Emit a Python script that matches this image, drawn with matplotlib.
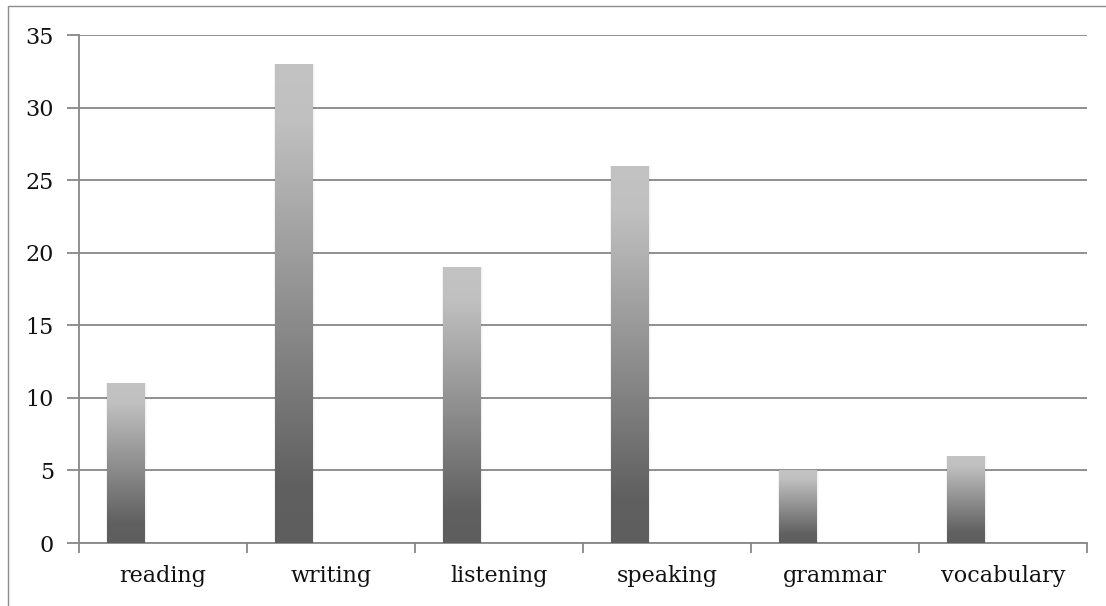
import numpy as np
import matplotlib
matplotlib.use("Agg")
import matplotlib.pyplot as plt
from matplotlib.patches import Rectangle
from matplotlib.colors import LinearSegmentedColormap

categories = ["reading", "writing", "listening", "speaking", "grammar", "vocabulary"]
values = [11, 33, 19, 26, 5, 6]
y_ticks = [0, 5, 10, 15, 20, 25, 30, 35]

W, H, DPI = 1106, 606, 100
fig = plt.figure(figsize=(W / DPI, H / DPI), dpi=DPI)
fig.patch.set_facecolor("white")

# outer chart border (left/top visible)
fig.add_artist(Rectangle((8 / W, -0.01), 1.02, 1 - 6 / H + 0.01,
                         transform=fig.transFigure, fill=False,
                         edgecolor="#8c8c8c", linewidth=1.0))

left, right, top, bottom = 79, 1087, 35, 543
ax = fig.add_axes([left / W, 1 - bottom / H, (right - left) / W, (bottom - top) / H])

grid_col = "#878787"
n = len(categories)

# Excel-style cluster: three slots per category, only the first used
bw = 1 / 4.5
offset = -0.5 + 0.75 * bw + bw / 2
xpos = np.arange(n) + offset

cmap = LinearSegmentedColormap.from_list(
    "bar", [(0.0, "#5e5e5e"), (0.12, "#606060"), (0.88, "#c0c0c0"), (1.0, "#c3c3c3")])
grad = np.linspace(0, 1, 256).reshape(-1, 1)

bars = ax.bar(xpos, values, width=bw, color="none", edgecolor="none", zorder=3)
for b in bars:
    x0, w, h = b.get_x(), b.get_width(), b.get_height()
    # soft shadow along the sides
    for k, a in enumerate([0.05, 0.035, 0.02]):
        d = 0.005 * (k + 1)
        ax.add_patch(Rectangle((x0 - d * 0.5, 0), w + d * 1.5, h,
                               facecolor="black", alpha=a, edgecolor="none", zorder=2.5))
    im = ax.imshow(grad, cmap=cmap, origin="lower", aspect="auto",
                   extent=(x0, x0 + w, 0, h), zorder=3, interpolation="bilinear")
    im.set_clip_path(b)

ax.set_xlim(-0.5, n - 0.5)
ax.set_ylim(0, 35)

for yv in y_ticks:
    ax.axhline(yv, color=grid_col, linewidth=1.3, zorder=1)

for s in ["top", "right"]:
    ax.spines[s].set_visible(False)
ax.spines["left"].set_color(grid_col)
ax.spines["left"].set_linewidth(1.3)
ax.spines["bottom"].set_color(grid_col)
ax.spines["bottom"].set_linewidth(1.3)

ax.set_yticks(y_ticks)
ax.set_yticklabels([str(v) for v in y_ticks])
ax.set_xticks(np.arange(n))
ax.set_xticklabels(categories)
ax.set_xticks(np.arange(n + 1) - 0.5, minor=True)
ax.tick_params(axis="x", which="major", length=0, pad=16)
ax.tick_params(axis="x", which="minor", length=7, width=1.3, color=grid_col, direction="out")
ax.tick_params(axis="y", length=9, width=1.3, color=grid_col, pad=9)

for lab in ax.get_xticklabels() + ax.get_yticklabels():
    lab.set_fontfamily("DejaVu Serif")
    lab.set_fontsize(16)
    lab.set_color("#111111")

fig.savefig("out.png", dpi=DPI, facecolor="white")
